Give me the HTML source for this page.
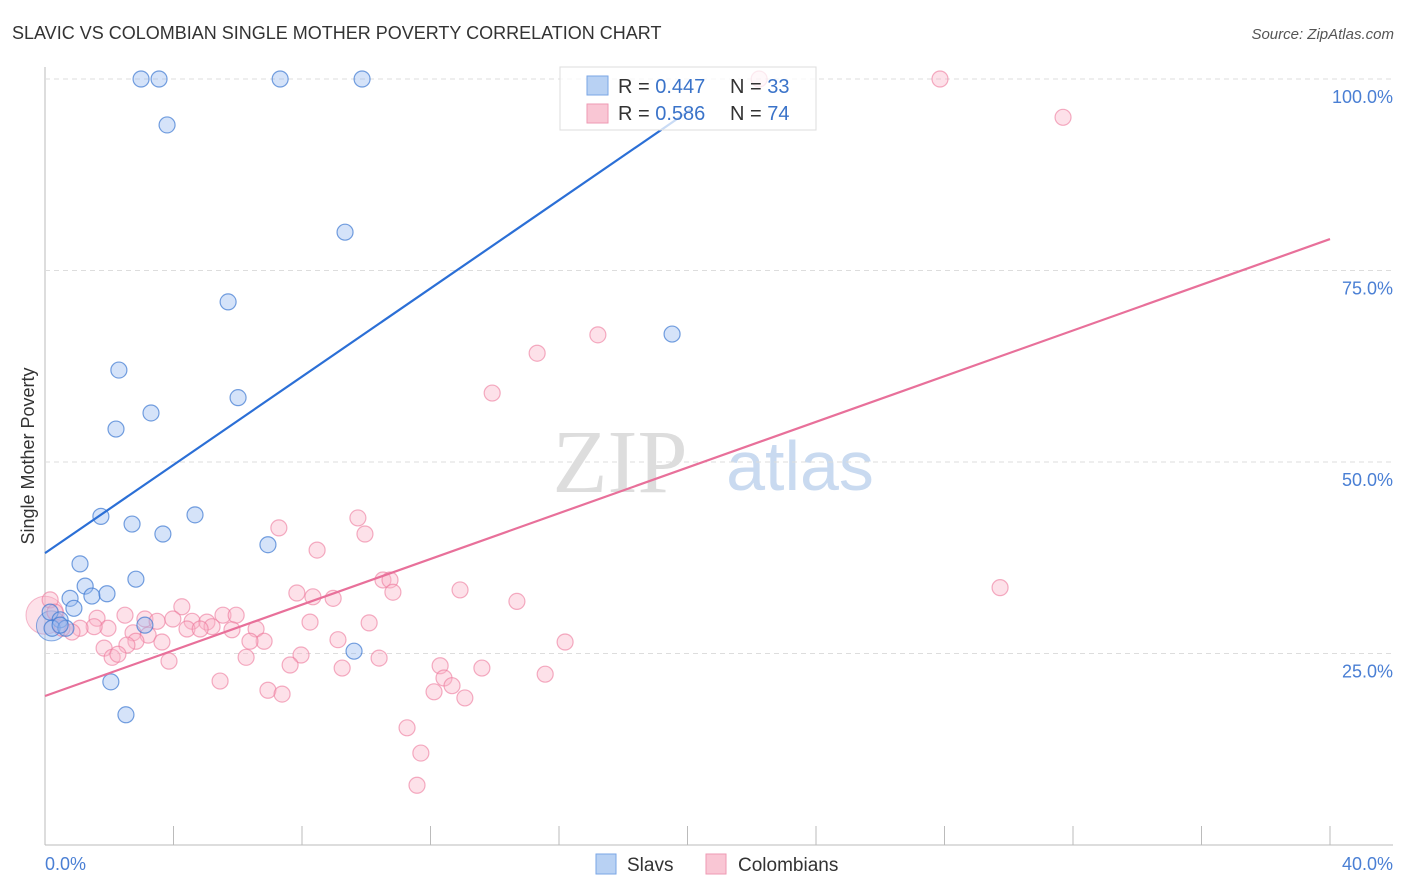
<!DOCTYPE html>
<html><head><meta charset="utf-8"><style>
body{margin:0;background:#fff;font-family:"Liberation Sans",sans-serif;}
svg{display:block}
</style></head><body>
<svg id="chart" width="1406" height="892">
<text x="12" y="39" font-size="18" fill="#333">SLAVIC VS COLOMBIAN SINGLE MOTHER POVERTY CORRELATION CHART</text>
<text x="1394" y="39" font-size="15" fill="#555" font-style="italic" text-anchor="end">Source: ZipAtlas.com</text>
<text x="620" y="492" font-size="90" fill="#ddd" font-family="Liberation Serif,serif" text-anchor="middle">ZIP</text>
<text x="800" y="490" font-size="70" fill="#c9daf0" text-anchor="middle">atlas</text>
<text transform="translate(34,456) rotate(-90)" font-size="18" fill="#333" text-anchor="middle">Single Mother Poverty</text>
<g id="grid"></g><g id="pts"></g><g id="lines"></g>
<g>
<rect x="560" y="67" width="256" height="63" fill="rgba(255,255,255,0.75)" stroke="#ddd"/>
<rect x="587" y="76" width="21" height="19" fill="#b8d1f3" stroke="#7aa6e6"/>
<rect x="587" y="104" width="21" height="19" fill="#f9c6d4" stroke="#ee9ab3"/>
<text x="618" y="93" font-size="20" fill="#333">R = <tspan fill="#3a73c9">0.447</tspan><tspan x="730">N = </tspan><tspan fill="#3a73c9">33</tspan></text>
<text x="618" y="120" font-size="20" fill="#333">R = <tspan fill="#3a73c9">0.586</tspan><tspan x="730">N = </tspan><tspan fill="#3a73c9">74</tspan></text>
</g>
<g>
<rect x="596" y="854" width="20" height="20" fill="#b8d1f3" stroke="#7aa6e6"/>
<text x="627" y="871" font-size="19" fill="#333">Slavs</text>
<rect x="706" y="854" width="20" height="20" fill="#f9c6d4" stroke="#ee9ab3"/>
<text x="738" y="871" font-size="19" fill="#333">Colombians</text>
</g>
</svg>
<script>
const xTicks=[0,4,8,12,16,20,24,28,32,36,40];
const yTicks=[25,50,75,100];
const yTickLabels=["25.0%","50.0%","75.0%","100.0%"];
const xEndLabels=["0.0%","40.0%"];
const slavX=[2.99,3.55,7.32,9.87,3.80,9.34,5.70,2.30,6.01,3.30,2.21,19.52,1.74,2.71,3.67,4.67,6.94,1.09,2.83,1.25,0.78,1.46,1.93,0.90,0.16,0.47,0.22,3.11,0.65,9.62,2.05,2.52,0.47];
const slavY=[100,100,100,100,94.0,80.0,70.9,62.0,58.4,56.4,54.3,66.7,42.9,41.9,40.6,43.1,39.2,36.7,34.7,33.8,32.2,32.5,32.8,30.9,30.4,29.4,28.3,28.7,28.3,25.3,21.3,17.0,28.7];
const colX=[22.23,27.86,31.69,17.21,15.32,13.92,29.73,9.74,9.96,7.28,8.47,10.52,10.74,10.83,12.92,14.69,7.84,8.34,8.97,4.26,2.49,1.62,3.11,3.49,3.98,4.58,5.04,5.54,5.95,5.20,4.42,4.83,5.82,6.57,8.25,10.09,1.96,1.53,1.09,0.84,0.53,0.16,0.31,2.74,3.21,3.64,2.83,2.55,1.84,2.09,2.27,3.86,6.26,6.82,6.38,7.97,7.63,9.12,9.25,10.40,12.30,13.60,15.57,16.19,5.45,6.94,7.38,12.42,12.67,12.11,13.07,11.27,11.70,11.58];
const colY=[100,100,95.0,66.6,64.2,59.0,33.6,42.7,40.6,41.4,38.5,34.6,34.6,33.0,33.3,31.8,32.9,32.4,32.2,31.1,30.0,29.6,29.5,29.2,29.5,29.2,29.1,30.0,30.0,28.5,28.2,28.2,28.1,28.2,29.1,29.0,28.3,28.5,28.3,27.8,28.3,32.0,30.4,27.7,27.4,26.5,26.6,26.1,25.7,24.5,24.9,24.0,24.5,26.6,26.6,24.8,23.5,26.8,23.1,24.4,23.4,23.1,22.3,26.5,21.4,20.2,19.7,21.8,20.8,20.0,19.2,15.3,12.0,7.8];
const slavTrend=[[0,38.1],[20.1,96.0]];
const colTrend=[[0,19.45],[40,79.1]];
const X=v=>45+v/40*1285, Y=v=>845-v/100*766;
const NS="http://www.w3.org/2000/svg";
function mk(t,a,p){const e=document.createElementNS(NS,t);for(const k in a)e.setAttribute(k,a[k]);p.appendChild(e);return e;}
const g=document.getElementById('grid');
const ax=mk('line',{x1:45,y1:67,x2:45,y2:845,stroke:'#bbb'},g);


const bx=mk('line',{x1:45,y1:845,x2:1393,y2:845,stroke:'#bbb'},g);


yTicks.forEach((t,i)=>{
 const l=mk('line',{x1:45,x2:1393,y1:Y(t),y2:Y(t),stroke:'#ddd','stroke-dasharray':'5,4'},g);
 
 
 const tx=mk('text',{x:1393,y:Y(t)+24,'font-size':18,fill:'#4a7fd4','text-anchor':'end'},g);
 tx.textContent=yTickLabels[i];
 
 
});
xTicks.forEach(t=>{
 const l=mk('line',{x1:X(t),x2:X(t),y1:826,y2:845,stroke:'#bbb'},g);
 
 
});
[[xEndLabels[0],45,'start'],[xEndLabels[1],1393,'end']].forEach(([s,x,a])=>{
 const tx=mk('text',{x:x,y:870,'font-size':18,fill:'#4a7fd4','text-anchor':a},g);
 tx.textContent=s;
 
 
});
const p=document.getElementById('pts');
const b1=mk('circle',{cx:X(0),cy:Y(30),r:19,fill:'rgba(249,180,200,0.4)',stroke:'rgba(236,120,155,0.5)'},p);


const b2=mk('circle',{cx:X(0.2),cy:Y(28.6),r:15,fill:'rgba(150,185,240,0.4)',stroke:'rgba(60,120,210,0.6)'},p);


colX.forEach((x,i)=>{
 const c=mk('circle',{cx:X(x),cy:Y(colY[i]),r:8,fill:'rgba(249,180,200,0.4)',stroke:'rgba(236,120,155,0.6)','stroke-width':1.2},p);
 
 
});
slavX.forEach((x,i)=>{
 const c=mk('circle',{cx:X(x),cy:Y(slavY[i]),r:8,fill:'rgba(150,185,240,0.4)',stroke:'rgba(60,120,210,0.7)','stroke-width':1.2},p);
 
 
});
const L=document.getElementById('lines');
const t1=mk('line',{x1:X(slavTrend[0][0]),y1:Y(slavTrend[0][1]),x2:X(slavTrend[1][0]),y2:Y(slavTrend[1][1]),stroke:'#2b6fd6','stroke-width':2.2},L);


const t2=mk('line',{x1:X(colTrend[0][0]),y1:Y(colTrend[0][1]),x2:X(colTrend[1][0]),y2:Y(colTrend[1][1]),stroke:'#e8709a','stroke-width':2.2},L);


</script>
</body></html>
